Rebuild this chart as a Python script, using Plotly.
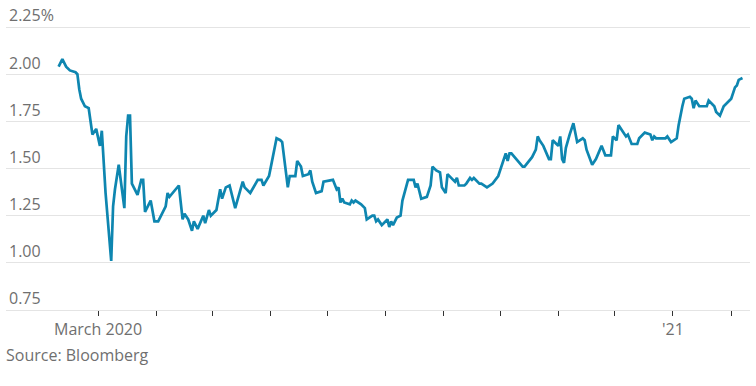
import plotly.graph_objects as go

dates = [
    "2020-02-09", "2020-02-11", "2020-02-13", "2020-02-15", "2020-02-18", "2020-02-19",
    "2020-02-20", "2020-02-21", "2020-02-23", "2020-02-25", "2020-02-27", "2020-02-29",
    "2020-03-02", "2020-03-03", "2020-03-05", "2020-03-06", "2020-03-08", "2020-03-09",
    "2020-03-10", "2020-03-12", "2020-03-14", "2020-03-15", "2020-03-16", "2020-03-17",
    "2020-03-18", "2020-03-19", "2020-03-22", "2020-03-24", "2020-03-25", "2020-03-26",
    "2020-03-29", "2020-03-31", "2020-04-02", "2020-04-06", "2020-04-07", "2020-04-08",
    "2020-04-13", "2020-04-15", "2020-04-16", "2020-04-18", "2020-04-20", "2020-04-21",
    "2020-04-23", "2020-04-26", "2020-04-27", "2020-04-29", "2020-04-30", "2020-05-03",
    "2020-05-05", "2020-05-06", "2020-05-08", "2020-05-10", "2020-05-13", "2020-05-17",
    "2020-05-18", "2020-05-21", "2020-05-25", "2020-05-27", "2020-05-28", "2020-05-31",
    "2020-06-01", "2020-06-04", "2020-06-06", "2020-06-07", "2020-06-10", "2020-06-11",
    "2020-06-14", "2020-06-15", "2020-06-17", "2020-06-18", "2020-06-21", "2020-06-22",
    "2020-06-23", "2020-06-25", "2020-06-28", "2020-06-29", "2020-07-04", "2020-07-06",
    "2020-07-07", "2020-07-08", "2020-07-09", "2020-07-10", "2020-07-13", "2020-07-14",
    "2020-07-15", "2020-07-16", "2020-07-19", "2020-07-21", "2020-07-22", "2020-07-25",
    "2020-07-26", "2020-07-27", "2020-07-28", "2020-07-30", "2020-08-02", "2020-08-03",
    "2020-08-04", "2020-08-05", "2020-08-07", "2020-08-09", "2020-08-10", "2020-08-13",
    "2020-08-14", "2020-08-16", "2020-08-17", "2020-08-18", "2020-08-19", "2020-08-20",
    "2020-08-23", "2020-08-25", "2020-08-26", "2020-08-28", "2020-08-30", "2020-08-31",
    "2020-09-02", "2020-09-03", "2020-09-06", "2020-09-07", "2020-09-08", "2020-09-09",
    "2020-09-12", "2020-09-13", "2020-09-15", "2020-09-16", "2020-09-17", "2020-09-20",
    "2020-09-21", "2020-09-24", "2020-09-27", "2020-09-29", "2020-09-30", "2020-10-04",
    "2020-10-05", "2020-10-06", "2020-10-07", "2020-10-13", "2020-10-14", "2020-10-18",
    "2020-10-20", "2020-10-21", "2020-10-22", "2020-10-24", "2020-10-27", "2020-10-28",
    "2020-10-29", "2020-10-31", "2020-11-01", "2020-11-02", "2020-11-03", "2020-11-04",
    "2020-11-05", "2020-11-07", "2020-11-09", "2020-11-11", "2020-11-14", "2020-11-15",
    "2020-11-16", "2020-11-19", "2020-11-21", "2020-11-24", "2020-11-26", "2020-11-29",
    "2020-11-30", "2020-12-02", "2020-12-03", "2020-12-05", "2020-12-07", "2020-12-08",
    "2020-12-10", "2020-12-13", "2020-12-14", "2020-12-17", "2020-12-20", "2020-12-21",
    "2020-12-22", "2020-12-23", "2020-12-28", "2020-12-29", "2020-12-31", "2021-01-03",
    "2021-01-04", "2021-01-06", "2021-01-07", "2021-01-10", "2021-01-11", "2021-01-12",
    "2021-01-13", "2021-01-15", "2021-01-19", "2021-01-20", "2021-01-23", "2021-01-24",
    "2021-01-26", "2021-01-28", "2021-01-30", "2021-02-01", "2021-02-03", "2021-02-04",
    "2021-02-05", "2021-02-07",
]

values = [
    2.04, 2.08, 2.04, 2.02, 2.01, 2.00,
    1.92, 1.87, 1.83, 1.82, 1.68, 1.71,
    1.62, 1.70, 1.37, 1.26, 1.01, 1.30,
    1.39, 1.52, 1.37, 1.29, 1.67, 1.78,
    1.78, 1.42, 1.36, 1.44, 1.44, 1.27,
    1.33, 1.22, 1.22, 1.30, 1.37, 1.35,
    1.41, 1.23, 1.26, 1.23, 1.17, 1.22,
    1.18, 1.25, 1.21, 1.28, 1.25, 1.28,
    1.39, 1.34, 1.40, 1.41, 1.29, 1.43,
    1.40, 1.37, 1.44, 1.44, 1.41, 1.46,
    1.51, 1.66, 1.65, 1.64, 1.40, 1.46,
    1.46, 1.54, 1.51, 1.46, 1.47, 1.49,
    1.43, 1.37, 1.38, 1.43, 1.44, 1.39,
    1.40, 1.32, 1.34, 1.32, 1.31, 1.33,
    1.32, 1.33, 1.31, 1.29, 1.23, 1.25,
    1.25, 1.22, 1.23, 1.20, 1.23, 1.19,
    1.22, 1.20, 1.24, 1.25, 1.33, 1.44,
    1.44, 1.44, 1.40, 1.42, 1.38, 1.34,
    1.35, 1.41, 1.51, 1.49, 1.48, 1.40,
    1.37, 1.47, 1.44, 1.43, 1.45, 1.41,
    1.41, 1.42, 1.45, 1.44, 1.45, 1.42,
    1.42, 1.40, 1.42, 1.45, 1.46, 1.58,
    1.54, 1.58, 1.58, 1.51, 1.51, 1.56,
    1.60, 1.67, 1.65, 1.62, 1.55, 1.55,
    1.65, 1.63, 1.62, 1.67, 1.55, 1.53,
    1.61, 1.68, 1.74, 1.64, 1.66, 1.65,
    1.60, 1.52, 1.55, 1.62, 1.57, 1.57,
    1.67, 1.65, 1.73, 1.70, 1.67, 1.68,
    1.63, 1.63, 1.66, 1.69, 1.68, 1.65,
    1.67, 1.66, 1.66, 1.67, 1.64, 1.66,
    1.73, 1.83, 1.87, 1.88, 1.87, 1.82,
    1.86, 1.83, 1.83, 1.86, 1.83, 1.80,
    1.78, 1.83, 1.85, 1.87, 1.93, 1.94,
    1.97, 1.98,
]

y_ticks = [0.75, 1.00, 1.25, 1.50, 1.75, 2.00, 2.25]
y_tick_labels = ["0.75", "1.00", "1.25", "1.50", "1.75", "2.00", "2.25%"]

x_ticks = ["2020-03-01", "2020-04-01", "2020-05-01", "2020-06-01", "2020-07-01",
           "2020-08-01", "2020-09-01", "2020-10-01", "2020-11-01", "2020-12-01",
           "2021-01-01", "2021-02-01"]
x_tick_labels = ["March 2020", "", "", "", "", "", "", "", "", "", "'21", ""]

source_text = "Source: Bloomberg"

FONT = "Open Sans"
FONT_SIZE = 16
TEXT_COLOR = "#6f6f6f"
LINE_COLOR = "#0e86b0"
GRID_COLOR = "#e4e4e4"

fig = go.Figure()
fig.add_trace(go.Scatter(
    x=dates, y=values, mode="lines",
    line=dict(color=LINE_COLOR, width=2.7),
    hoverinfo="skip",
))

fig.update_layout(
    width=756, height=386,
    margin=dict(l=6, r=6, t=4, b=76, autoexpand=False),
    paper_bgcolor="white", plot_bgcolor="white",
    showlegend=False,
    font=dict(family=FONT, size=FONT_SIZE, color=TEXT_COLOR),
    xaxis=dict(
        type="date",
        range=["2020-01-12", "2021-02-11"],
        tickvals=x_ticks, ticktext=x_tick_labels,
        ticks="outside", ticklen=5, tickwidth=1, tickcolor="#333333",
        showgrid=False, zeroline=False,
        showline=True, linecolor=GRID_COLOR, linewidth=1,
        tickfont=dict(family=FONT, size=FONT_SIZE, color=TEXT_COLOR),
        automargin=False,
        fixedrange=True,
    ),
    yaxis=dict(
        range=[0.75, 2.372],
        tickvals=y_ticks, ticktext=y_tick_labels,
        ticklabelposition="inside top",
        showgrid=True, gridcolor=GRID_COLOR, gridwidth=1,
        zeroline=False, showline=False, ticks="",
        tickfont=dict(family=FONT, size=FONT_SIZE, color=TEXT_COLOR),
        automargin=False,
        fixedrange=True,
    ),
    annotations=[dict(
        text=source_text, xref="paper", yref="paper",
        x=0, y=-45 / 306, xanchor="left", yanchor="middle",
        showarrow=False, xshift=-2,
        font=dict(family=FONT, size=FONT_SIZE, color=TEXT_COLOR),
    )],
)

fig.write_html(
    "out.html",
    config={"displayModeBar": False},
    post_script="document.body.style.margin='0';document.body.style.padding='0';",
)
